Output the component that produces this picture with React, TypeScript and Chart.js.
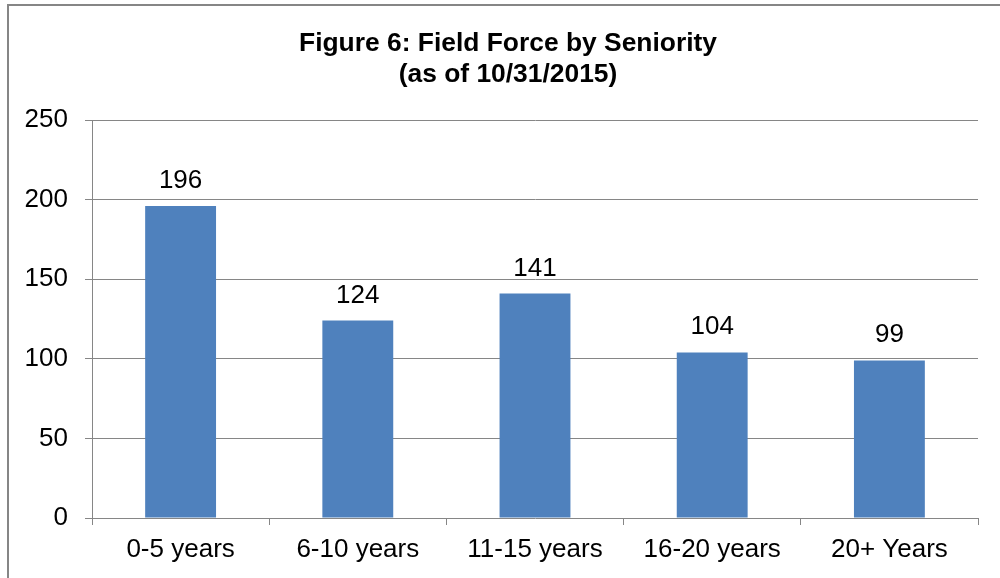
import React, { useEffect, useRef } from "react";
import { Chart, registerables } from "chart.js";

Chart.register(...registerables);

const categories = ["0-5 years", "6-10 years", "11-15 years", "16-20 years", "20+ Years"];
const headcount = [196, 124, 141, 104, 99];
const titleLines = ["Figure 6: Field Force by Seniority", "(as of 10/31/2015)"];

const FONT = "'Liberation Sans', Arial, sans-serif";
const GRID = "#868686";
const BAR = "#4F81BD";

// Two-line bold heading above the plot
const heading = {
  id: "heading",
  afterDraw(chart: any) {
    const ctx = chart.ctx;
    ctx.save();
    ctx.font = `bold 26.4px ${FONT}`;
    ctx.fillStyle = "#000";
    ctx.textAlign = "center";
    ctx.textBaseline = "alphabetic";
    ctx.fillText(titleLines[0], 508, 51);
    ctx.fillText(titleLines[1], 508, 82);
    ctx.restore();
  },
};

// Writes each bar's value just above it
const valueLabels = {
  id: "valueLabels",
  afterDatasetsDraw(chart: any) {
    const ctx = chart.ctx;
    const meta = chart.getDatasetMeta(0);
    const values = chart.data.datasets[0].data as number[];
    ctx.save();
    ctx.font = `26px ${FONT}`;
    ctx.fillStyle = "#000";
    ctx.textAlign = "center";
    ctx.textBaseline = "alphabetic";
    meta.data.forEach((bar: any, i: number) => {
      ctx.fillText(String(values[i]), bar.x, bar.y - 18);
    });
    ctx.restore();
  },
};

export default function App() {
  const canvasRef = useRef<HTMLCanvasElement | null>(null);

  useEffect(() => {
    const canvas = canvasRef.current;
    if (!canvas) return;
    const chart = new Chart(canvas, {
      type: "bar",
      data: {
        labels: categories,
        datasets: [
          {
            data: headcount,
            backgroundColor: BAR,
            borderWidth: 0,
            categoryPercentage: 1,
            barPercentage: 0.4,
          },
        ],
      },
      options: {
        responsive: false,
        animation: false,
        devicePixelRatio: 1,
        layout: { padding: { top: 120, left: 0, right: 22, bottom: 0 } },
        plugins: {
          legend: { display: false },
          tooltip: { enabled: false },
          title: { display: false },
        },
        scales: {
          x: {
            grid: {
              offset: true,
              drawOnChartArea: false,
              drawTicks: true,
              tickLength: 7,
              color: GRID,
              lineWidth: 1,
            },
            border: { display: false },
            ticks: {
              color: "#000",
              font: { family: FONT, size: 26 },
              padding: 9,
              maxRotation: 0,
              autoSkip: false,
            },
            afterFit: (s: any) => {
              s.height = 60;
            },
          },
          y: {
            min: 0,
            max: 250,
            ticks: {
              stepSize: 50,
              color: "#000",
              font: { family: FONT, size: 26 },
              padding: 17,
            },
            grid: {
              color: GRID,
              lineWidth: 1,
              tickLength: 7,
              drawTicks: true,
            },
            border: { display: true, color: GRID, width: 1 },
            afterFit: (s: any) => {
              s.width = 92;
            },
          },
        },
      },
      plugins: [valueLabels, heading],
    });
    return () => chart.destroy();
  }, []);

  return (
    <div
      style={{
        position: "fixed",
        left: 0,
        top: 0,
        width: 1000,
        height: 578,
        background: "#fff",
        overflow: "hidden",
      }}
    >
      <canvas
        ref={canvasRef}
        width={1000}
        height={578}
        style={{ position: "absolute", left: 0, top: 0, width: 1000, height: 578 }}
      />
      <div
        style={{
          position: "absolute",
          left: 7,
          top: 4,
          width: 1000,
          height: 600,
          borderLeft: `2px solid ${GRID}`,
          borderTop: `2px solid ${GRID}`,
          pointerEvents: "none",
        }}
      />
    </div>
  );
}
